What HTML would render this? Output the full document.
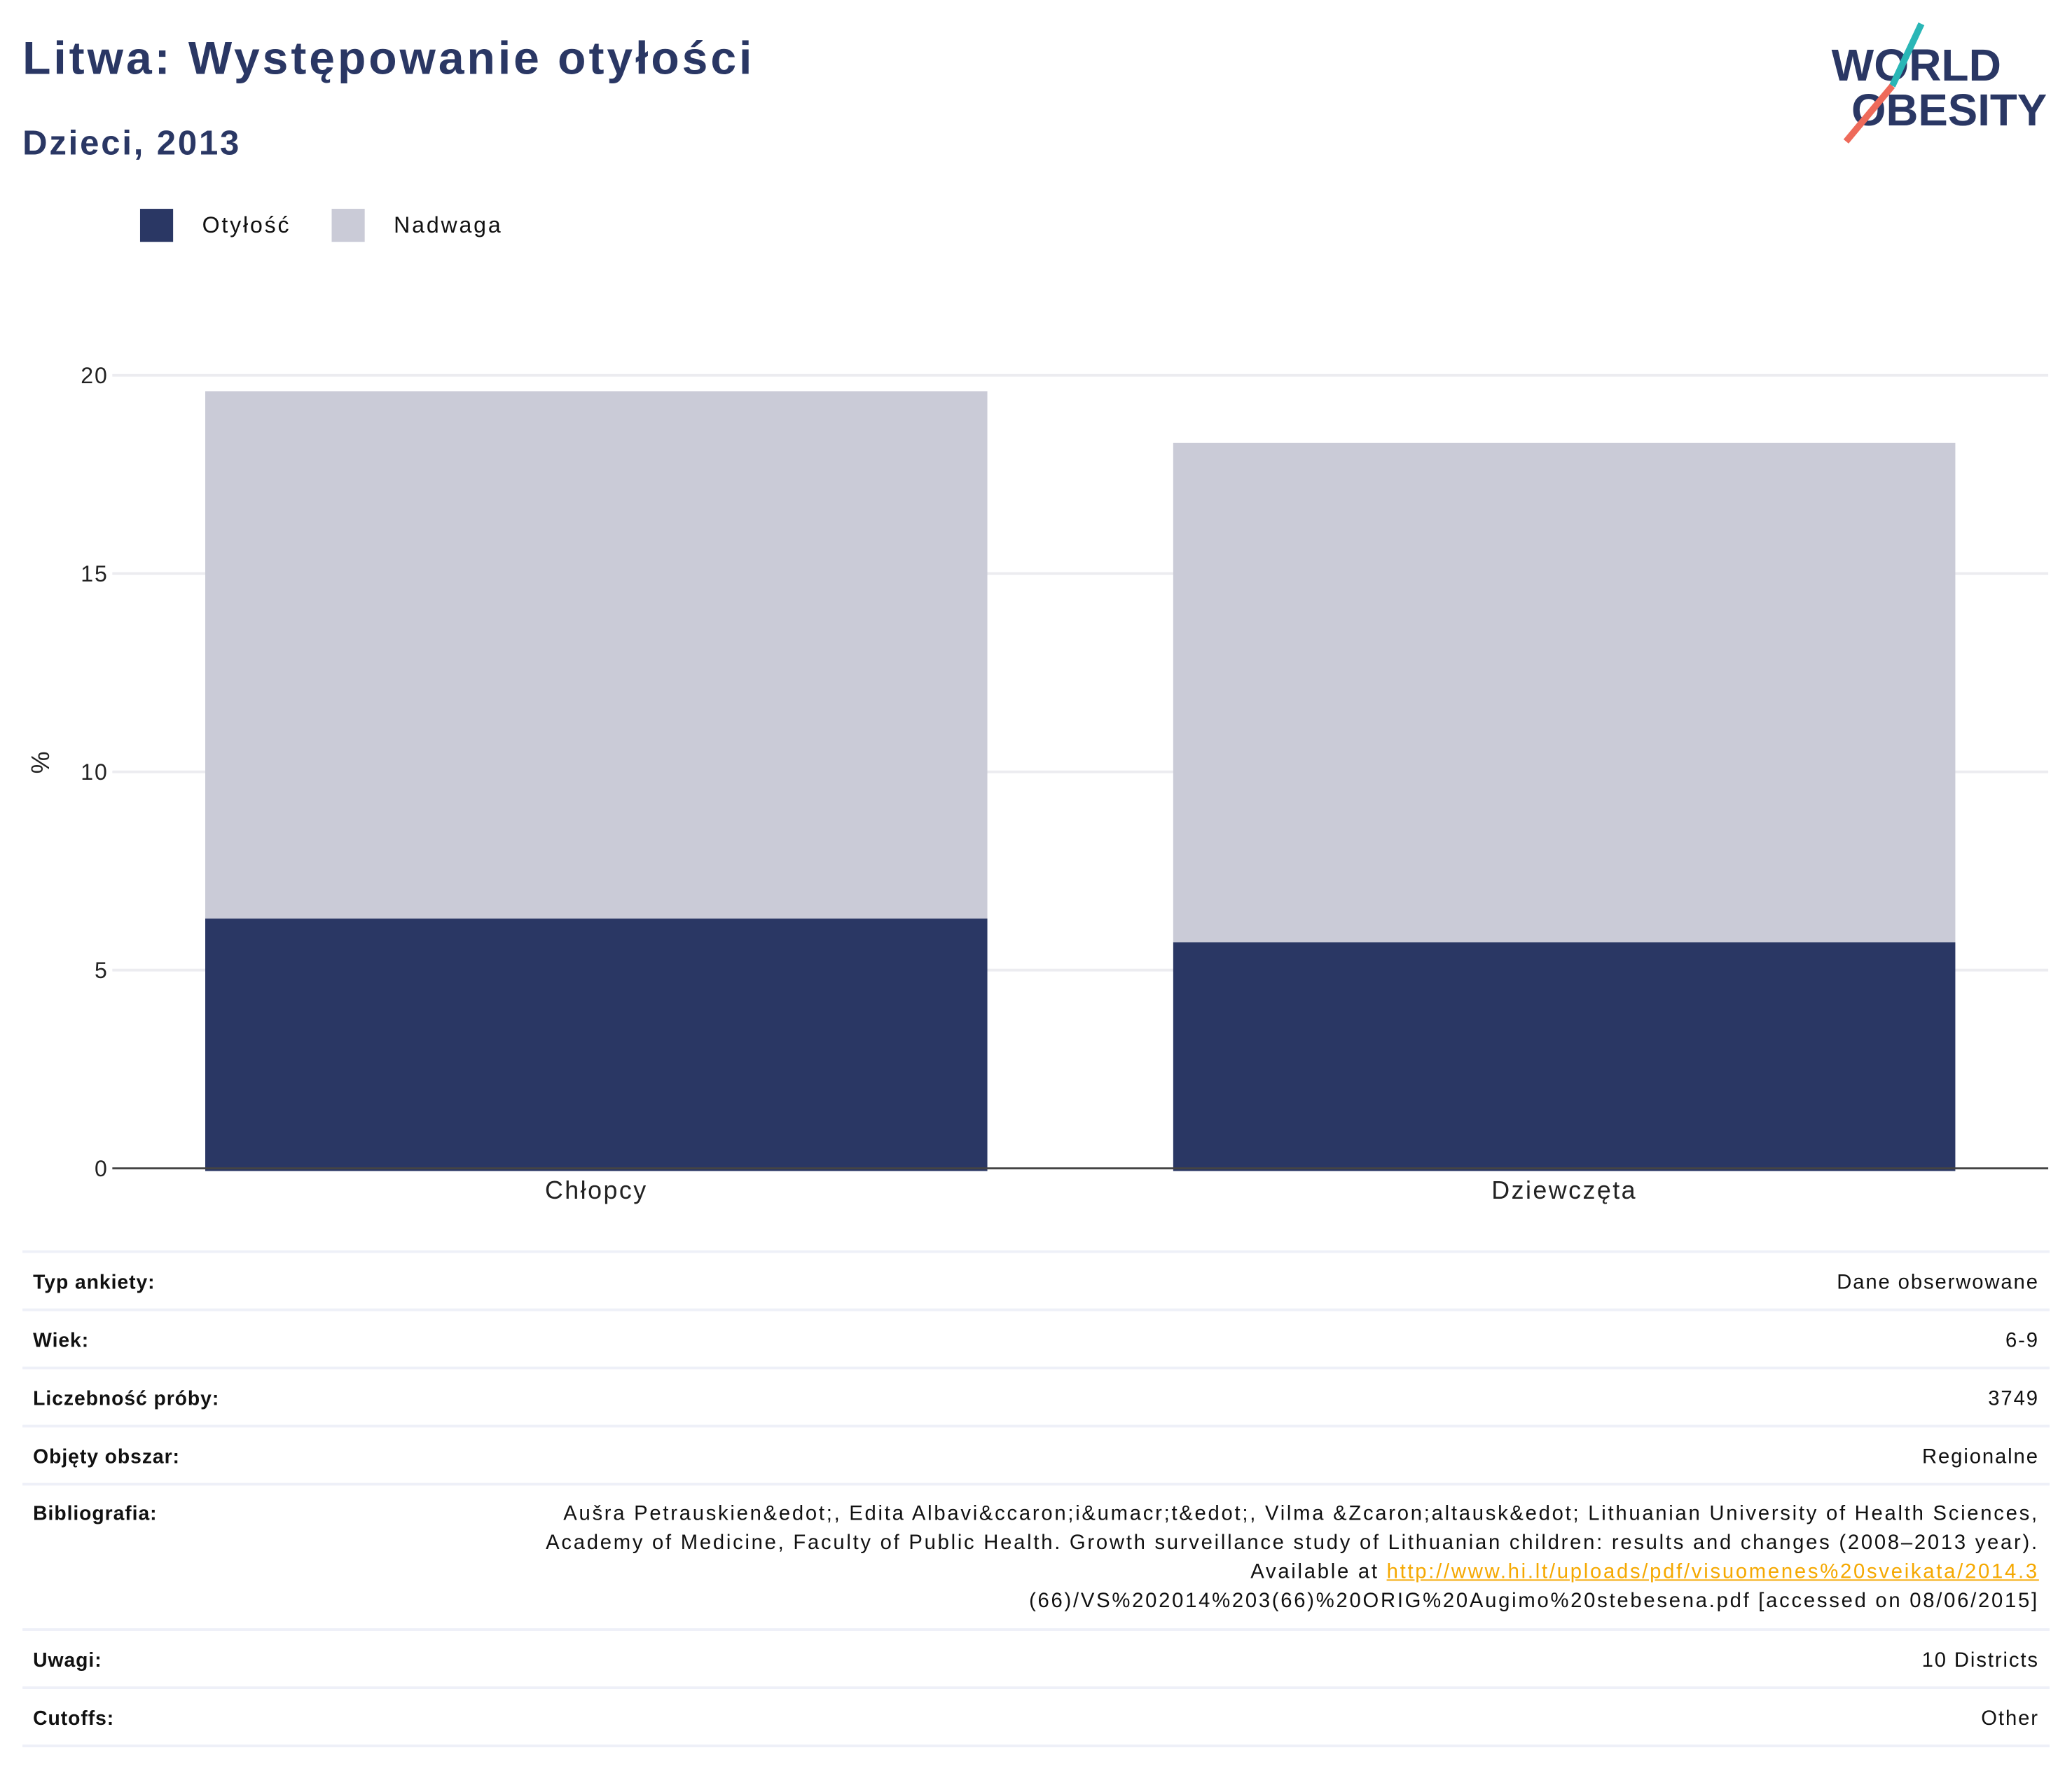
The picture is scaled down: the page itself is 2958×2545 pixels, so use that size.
<!DOCTYPE html>
<html><head><meta charset="utf-8"><style>
html,body{margin:0;padding:0;background:#fff;}
body{width:2958px;height:2545px;overflow:hidden;position:relative;}
#wrap{position:absolute;left:0;top:0;width:1568px;height:1349px;transform:scale(1.8865);transform-origin:0 0;font-family:"Liberation Sans",sans-serif;color:#111;}
.abs{position:absolute;white-space:nowrap;}
.row-line{position:absolute;left:17px;width:1534px;height:2px;background:#eef0f8;}
.lbl{position:absolute;left:25px;font-size:15px;font-weight:bold;letter-spacing:0.5px;}
.val{position:absolute;right:25px;font-size:15.5px;text-align:right;letter-spacing:1px;}
</style></head><body>
<div id="wrap">
<div class="abs" style="left:17px;top:25px;font-size:35px;font-weight:bold;color:#2a3764;letter-spacing:2.1px;">Litwa: Występowanie otyłości</div>
<div class="abs" style="left:17px;top:93px;font-size:26px;font-weight:bold;color:#2a3764;letter-spacing:1.5px;">Dzieci, 2013</div>
<svg class="abs" style="left:1380px;top:15px;" width="180" height="100">
<text x="6" y="46" font-family="Liberation Sans" font-weight="bold" font-size="34" fill="#2a3764">WORLD</text>
<text x="21" y="80" font-family="Liberation Sans" font-weight="bold" font-size="34" fill="#2a3764" textLength="148" lengthAdjust="spacingAndGlyphs">OBESITY</text>
<line x1="74" y1="3" x2="52" y2="50" stroke="#2ab6b6" stroke-width="5"/>
<line x1="52" y1="50" x2="17" y2="92" stroke="#ee6a5a" stroke-width="5"/>
</svg>
<div class="abs" style="left:106px;top:158px;"><div style="position:absolute;left:0;top:0;width:25px;height:25px;background:#2a3764"></div><div style="position:absolute;left:47px;top:3px;font-size:17px;letter-spacing:1.5px;">Otyłość</div></div>
<div class="abs" style="left:251px;top:158px;"><div style="position:absolute;left:0;top:0;width:25px;height:25px;background:#cacbd7"></div><div style="position:absolute;left:47px;top:3px;font-size:17px;letter-spacing:1.5px;">Nadwaga</div></div>
<svg id="chart" class="abs" style="left:0;top:0" width="1568" height="930"></svg>

<div class="row-line" style="top:946px"></div>
<div class="lbl" style="top:962px">Typ ankiety:</div>
<div class="val" style="top:962px">Dane obserwowane</div>
<div class="row-line" style="top:990px"></div>
<div class="lbl" style="top:1006px">Wiek:</div>
<div class="val" style="top:1006px">6-9</div>
<div class="row-line" style="top:1034px"></div>
<div class="lbl" style="top:1050px">Liczebność próby:</div>
<div class="val" style="top:1050px">3749</div>
<div class="row-line" style="top:1078px"></div>
<div class="lbl" style="top:1094px">Objęty obszar:</div>
<div class="val" style="top:1094px">Regionalne</div>
<div class="row-line" style="top:1122px"></div>
<div class="lbl" style="top:1137px">Bibliografia:</div>
<div class="val" style="top:1135px;line-height:22px;letter-spacing:1.45px;">Aušra Petrauskien&amp;edot;, Edita Albavi&amp;ccaron;i&amp;umacr;t&amp;edot;, Vilma &amp;Zcaron;altausk&amp;edot; Lithuanian University of Health Sciences,<br>Academy of Medicine, Faculty of Public Health. Growth surveillance study of Lithuanian children: results and changes (2008–2013 year).<br>Available at <span style="color:#f5a800;text-decoration:underline;">http://www.hi.lt/uploads/pdf/visuomenes%20sveikata/2014.3</span><br>(66)/VS%202014%203(66)%20ORIG%20Augimo%20stebesena.pdf [accessed on 08/06/2015]</div>
<div class="row-line" style="top:1232px"></div>
<div class="lbl" style="top:1248px">Uwagi:</div>
<div class="val" style="top:1248px">10 Districts</div>
<div class="row-line" style="top:1276px"></div>
<div class="lbl" style="top:1292px">Cutoffs:</div>
<div class="val" style="top:1292px">Other</div>
<div class="row-line" style="top:1320px"></div>
</div>
<script>
const categories = ["Chłopcy", "Dziewczęta"];
const obesityValues = [6.3, 5.7];
const overweightValues = [13.3, 12.6];
const yTicks = [0, 5, 10, 15, 20];

const NS = "http://www.w3.org/2000/svg";
const svg = document.getElementById("chart");
const plotLeft = 85, plotRight = 1550, plotTop = 284, plotBottom = 884, yMax = 20;
function yScale(v){ return plotBottom - (v / yMax) * (plotBottom - plotTop); }
const band = (plotRight - plotLeft) / categories.length;
const barW = band * 0.808;
function xCenter(i){ return plotLeft + band * (i + 0.5); }
function mk(tag, attrs){ const e = document.createElementNS(NS, tag); for (const k in attrs) e.setAttribute(k, attrs[k]); svg.appendChild(e); return e; }

yTicks.forEach(t => {
  if (t > 0) {
    const g = mk("line", {x1: plotLeft, x2: plotRight, y1: yScale(t), y2: yScale(t), stroke: "#ececf0", "stroke-width": 2});
    
    
  }
  const tx = mk("text", {x: 82, y: yScale(t) + 6, "text-anchor": "end", "font-size": 17, "font-family": "Liberation Sans", fill: "#222", "letter-spacing": 1});
  tx.textContent = t;
  
  
});

categories.forEach((c, i) => {
  const x = xCenter(i) - barW / 2;
  const ob = mk("rect", {x: x, y: yScale(obesityValues[i]), width: barW, height: yScale(0) - yScale(obesityValues[i]) + 2, fill: "#2a3764"});
  
  
  const tot = obesityValues[i] + overweightValues[i];
  const ow = mk("rect", {x: x, y: yScale(tot), width: barW, height: yScale(obesityValues[i]) - yScale(tot), fill: "#cacbd7"});
  
  
  const lb = mk("text", {x: xCenter(i), y: 907, "text-anchor": "middle", "font-size": 19, "font-family": "Liberation Sans", fill: "#222", "letter-spacing": 1.3});
  lb.textContent = c;
  
  
});

const ax = mk("line", {x1: plotLeft, x2: plotRight, y1: plotBottom, y2: plotBottom, stroke: "#444", "stroke-width": 1.5});


const yt = mk("text", {x: 0, y: 0, transform: "translate(37,577) rotate(-90)", "text-anchor": "middle", "font-size": 19, "font-family": "Liberation Sans", fill: "#222"});
yt.textContent = "%";


</script>
</body></html>
